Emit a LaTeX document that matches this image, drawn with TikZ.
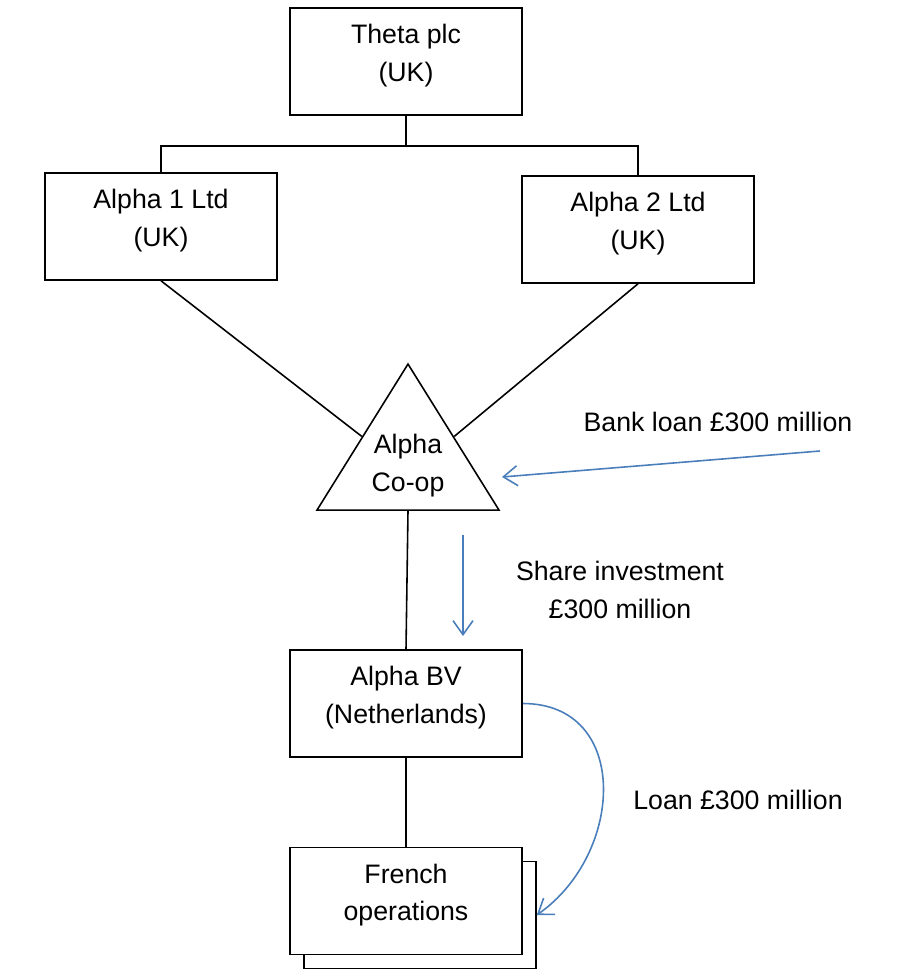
\documentclass[tikz,border=0pt]{standalone}
\usepackage{fontspec}
\setmainfont{Liberation Sans}
\usetikzlibrary{shapes.geometric,arrows.meta}

\definecolor{loanblue}{HTML}{4A7EBB}
\tikzstyle{entity} = [rectangle, minimum width=4.64cm, minimum height=2.14cm, text centered, align=center, draw=black, fill=white, line width=0.9pt, execute at end node={\rule[-0.35cm]{0pt}{0pt}}]
\tikzstyle{coopshape} = [isosceles triangle, shape border rotate=90, isosceles triangle stretches, minimum width=3.64cm, minimum height=2.92cm, inner sep=0pt, draw=black, line width=0.9pt]
\tikzstyle{link} = [line width=0.9pt]
\tikzstyle{flow} = [line width=0.9pt, draw=loanblue, -{Straight Barb[length=2.8mm,width=4mm]}]
\tikzstyle{note} = [align=center]

\begin{document}
\begin{tikzpicture}[node distance=1cm, font=\fontsize{15.2}{21.5}\selectfont]
	\useasboundingbox (0,0) rectangle (18.42,-19.6);
	\node (theta) [entity] at (8.12,-1.23) {Theta plc\\(UK)};
	\node (alpha1) [entity, node distance=3.3cm, below of=theta, xshift=-4.9cm] {Alpha 1 Ltd\\(UK)};
	\node (alpha2) [entity, node distance=3.36cm, below of=theta, xshift=4.64cm] {Alpha 2 Ltd\\(UK)};
	\node (coop) [coopshape, anchor=apex] at (8.16,-7.24) {};
	\node (coopname) [note] at (8.16,-9.31) {Alpha\\Co-op};
	\node (alphabv) [entity, node distance=12.84cm, below of=theta] {Alpha BV\\(Netherlands)};
	\node (frenchbk) [entity, node distance=4.23cm, below of=alphabv, xshift=0.28cm] {};
	\node (french) [entity, node distance=3.95cm, below of=alphabv] {French\\operations};

	\coordinate (bankfrom) at (16.4,-9.02);
	\coordinate (bankto) at (10.04,-9.54);
	\coordinate (sharefrom) at (9.26,-10.7);
	\coordinate (shareto) at (9.26,-12.72);

	\node (banklbl) [note] at (14.36,-8.44) {Bank loan £300 million};
	\node (sharelbl) [note] at (12.4,-11.8) {Share investment\\£300 million};
	\node (loanlbl) [note] at (14.76,-16.0) {Loan £300 million};

	\draw [link] (theta.south) -- ++(0,-0.6) coordinate (fork);
	\draw [link] (fork) -| (alpha1.north);
	\draw [link] (fork) -| (alpha2.north);
	\draw [link] (alpha1.south) -- (coop.left side);
	\draw [link] (alpha2.south) -- (coop.right side);
	\draw [link] (coop.lower side) -- (alphabv.north);
	\draw [link] (alphabv.south) -- (french.north);

	\draw [flow] (bankfrom) -- (bankto);
	\draw [flow] (sharefrom) -- (shareto);
	\draw [flow] (alphabv.east) to[out=0, in=35, looseness=1.3] (frenchbk.east);
\end{tikzpicture}
\end{document}
